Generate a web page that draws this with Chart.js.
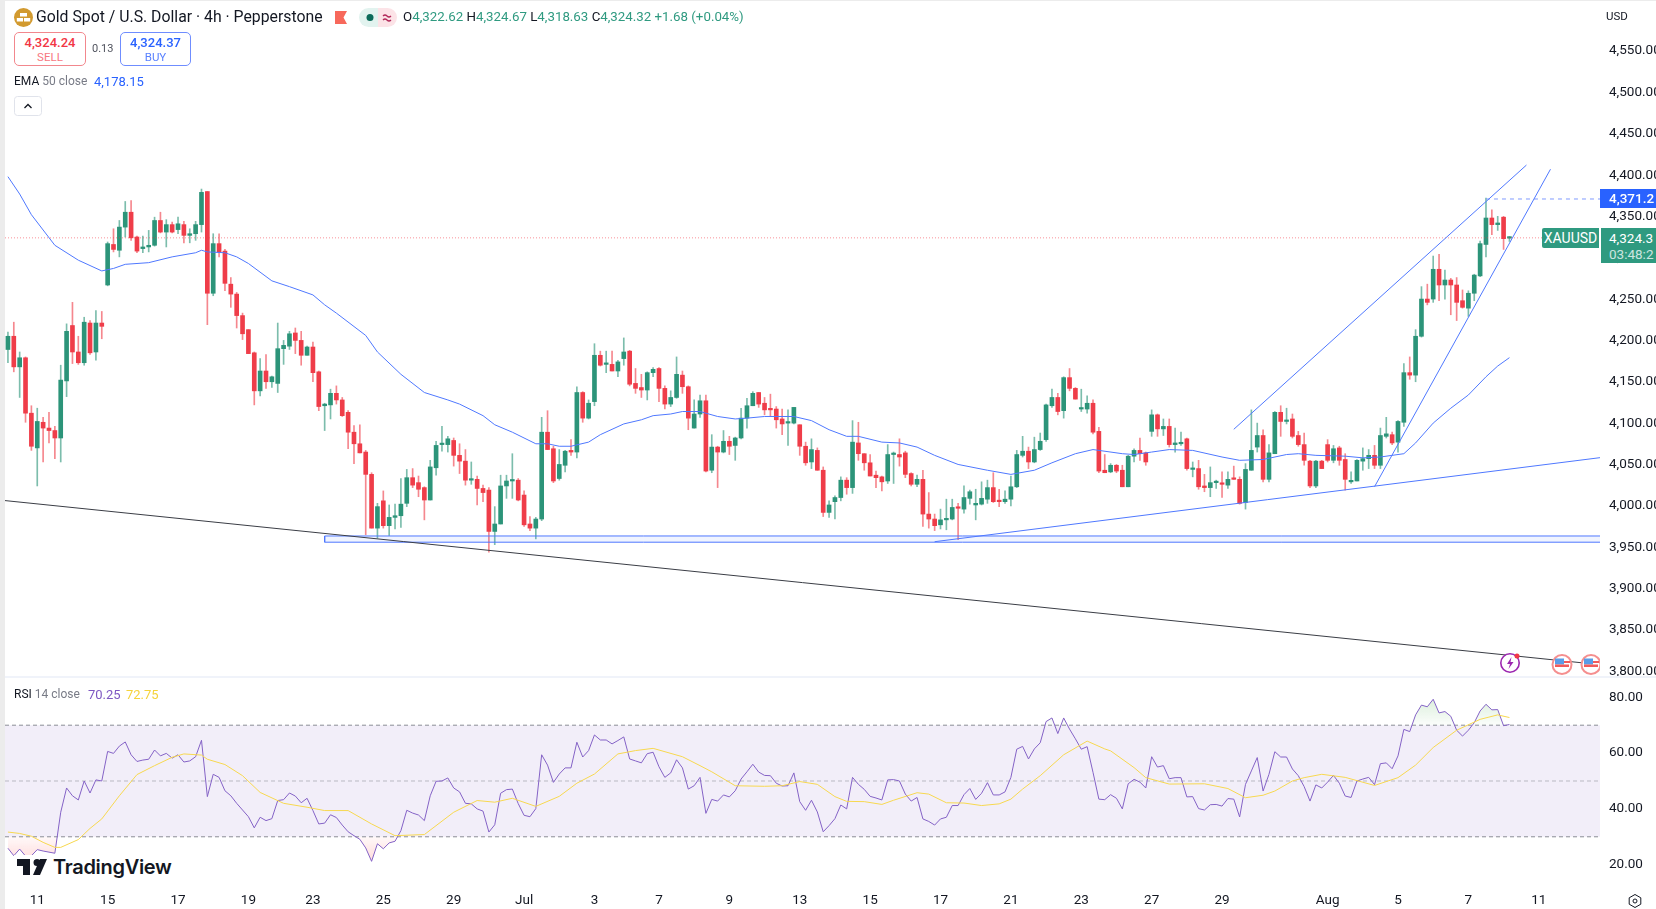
<!DOCTYPE html>
<html>
<head>
<meta charset="utf-8">
<title>Gold Spot / U.S. Dollar</title>
<script src="https://cdn.jsdelivr.net/npm/chart.js@4/dist/chart.umd.min.js"></script>
<style>
    html, body { margin: 0; padding: 0; width: 1656px; height: 909px; overflow: hidden; background: #fff; }
    body { font-family: Roboto, sans-serif; color: #131722; position: relative; }
    canvas { position: absolute; left: 5px; }
    .abs { position: absolute; white-space: nowrap; line-height: 1; }
    .green { color: #2f9a80; }
    .gray { color: #787b86; }
    .box { position: absolute; top: 32px; height: 32px; border-radius: 5px; background: #fff; text-align: center; font-size: 13px; line-height: 1; }
    .box span { display: block; font-size: 11.5px; margin-top: 3px; }
    .box b { display: block; font-weight: 500; margin-top: 3px; }
    .tag { position: absolute; color: #fff; background: #2f9a80; overflow: hidden; white-space: nowrap; }
</style>
</head>
<body>
<div style="position:absolute;left:0;top:0;width:5px;height:909px;background:#ececec"></div>
<div style="position:absolute;left:0;top:0;width:1656px;height:1px;background:#ececec"></div>
<canvas id="priceChart" width="1651" height="675" style="top:1px;width:1651px;height:675px"></canvas>
<canvas id="rsiChart" width="1651" height="231" style="top:678px;width:1651px;height:231px"></canvas>
<div style="position:absolute;left:5px;top:676px;width:1651px;height:2px;background:#f0f3fa"></div>

<!-- legend -->
<svg class="abs" style="left:14px;top:8px" width="19" height="19" viewBox="0 0 19 19">
    <circle cx="9.5" cy="9.5" r="9.5" fill="#d29a2f"/>
    <rect x="6" y="5" width="7" height="3.5" fill="#fff"/>
    <rect x="2.8" y="10" width="6.2" height="3.5" fill="#fff"/>
    <rect x="10" y="10" width="6.2" height="3.5" fill="#fff"/>
</svg>
<div class="abs" style="left:36px;top:9px;font-size:15.8px">Gold Spot / U.S. Dollar · 4h · Pepperstone</div>
<svg class="abs" style="left:335px;top:11px" width="12" height="13"><path d="M0 0H12L8.5 6.5L12 13H0Z" fill="#f7685b"/></svg>
<svg class="abs" style="left:359px;top:8px" width="38" height="19">
    <path d="M9.5 0H19V19H9.5A9.5 9.5 0 0 1 9.5 0Z" fill="#e2f3ef"/>
    <path d="M19 0H28.500A9.500 9.500 0 0 1 28.500 19H19Z" fill="#fce3e7"/>
    <circle cx="11" cy="9.500" r="3.500" fill="#0c6b5a"/>
    <path d="M24 8Q26 6 28 8T32 8M24 12Q26 10 28 12T32 12" fill="none" stroke="#b2285a" stroke-width="1.300"/>
</svg>
<div class="abs green" style="left:403px;top:10px;font-size:13.3px"><span style="color:#131722">O</span>4,322.62 <span style="color:#131722">H</span>4,324.67 <span style="color:#131722">L</span>4,318.63 <span style="color:#131722">C</span>4,324.32 +1.68 (+0.04%)</div>
<div class="abs" style="left:1606px;top:11px;font-size:11.5px">USD</div>

<div class="box" style="left:14px;width:70px;border:1px solid #f2878d;color:#f23645"><b>4,324.24</b><span style="color:#f7777f">SELL</span></div>
<div class="abs" style="left:92px;top:43px;font-size:11px;color:#50535e">0.13</div>
<div class="box" style="left:120px;width:69px;border:1px solid #6f8dff;color:#2962ff"><b>4,324.37</b><span style="color:#5a82ff">BUY</span></div>

<div class="abs" style="left:14px;top:75px;font-size:12px"><span>EMA</span> <span class="gray">50 close</span></div>
<div class="abs" style="left:94px;top:75px;font-size:13px;color:#2962ff">4,178.15</div>
<svg class="abs" style="left:14px;top:96px" width="28" height="20">
    <rect x="0.500" y="0.500" width="27" height="19" rx="3" fill="#fff" stroke="#e0e3eb"/>
    <path d="M10.500 12L14 8.500L17.500 12" fill="none" stroke="#131722" stroke-width="1.300"/>
</svg>

<div class="abs" style="left:14px;top:688px;font-size:12px"><span>RSI</span> <span class="gray">14 close</span></div>
<div class="abs" style="left:88px;top:688px;font-size:13px;color:#7e57c2">70.25</div>
<div class="abs" style="left:126px;top:688px;font-size:13px;color:#f5d33c">72.75</div>

<!-- price labels -->
<div class="tag" style="left:1600px;top:189px;width:56px;height:19px;background:#2962ff;font-size:13.500px;line-height:19px;text-indent:9px;font-weight:500">4,371.2</div>
<div class="tag" style="left:1542px;top:228px;width:57px;height:20px;font-size:14px;line-height:20px;text-align:center;border-radius:2px 0 0 2px">XAUUSD</div>
<div class="tag" style="left:1601px;top:228px;width:55px;height:35px;font-size:13.500px;text-indent:8px;line-height:16px"><div style="margin-top:2px">4,324.3</div><div style="opacity:.75">03:48:2</div></div>

<!-- event marks -->
<svg class="abs" style="left:1500px;top:650px" width="100" height="26" viewBox="0 0 100 26">
    <circle cx="10" cy="13" r="9.200" fill="#fff" stroke="#9c27b0" stroke-width="1.600"/>
    <path d="M11.500 7L7 14H10L8.500 19L13.500 12H10.500Z" fill="#9c27b0"/>
    <circle cx="17" cy="6" r="2.500" fill="#f23645"/>
    <g>
        <circle cx="62" cy="14.500" r="9.500" fill="#fff" stroke="#f58f8f" stroke-width="2"/>
        <rect x="55" y="8.500" width="9" height="6" fill="#5a9ce8"/>
        <rect x="55" y="14.500" width="14" height="2.500" fill="#f25a5a"/>
        <rect x="64" y="11" width="6" height="2" fill="#f25a5a"/>
    </g>
    <g>
        <circle cx="91" cy="14.500" r="9.500" fill="#fff" stroke="#f58f8f" stroke-width="2"/>
        <rect x="84" y="8.500" width="9" height="6" fill="#5a9ce8"/>
        <rect x="84" y="14.500" width="14" height="2.500" fill="#f25a5a"/>
        <rect x="93" y="11" width="6" height="2" fill="#f25a5a"/>
    </g>
</svg>

<!-- watermark -->
<div style="position:absolute;left:14px;top:855px;width:160px;height:24px;background:#fff"></div>
<svg class="abs" style="left:17px;top:859px" width="30" height="16" viewBox="0 0 30 16">
    <path d="M0 0H13V16H6V7H0Z M20 0A3.500 3.500 0 1 1 20 7A3.500 3.500 0 0 1 20 0Z M16 16L23 0H30L23 16Z" fill="#131722"/>
</svg>
<div class="abs" style="left:53px;top:857px;font-size:20px;font-family:Inter,sans-serif;font-weight:600;letter-spacing:-0.300px">TradingView</div>

<svg class="abs" style="left:1627px;top:893px" width="16" height="16" viewBox="0 0 16 16">
    <path d="M8 1.500L13.800 4.800V11.200L8 14.500L2.200 11.200V4.800Z" fill="none" stroke="#131722"/>
    <circle cx="8" cy="8" r="2" fill="none" stroke="#131722"/>
</svg>

<script>
// Candles
const opens = [
    4188,4204,4167,4178,4111,4069,4100,4093,4090,4081,
    4150,4217,4185,4172,4220,4185,4220,4266,4315,4308,
    4336,4354,4324,4310,4312,4314,4344,4330,4339,4333,
    4339,4326,4328,4339,4379,4256,4316,4307,4267,4255,
    4229,4212,4184,4138,4162,4149,4147,4189,4192,4208,
    4199,4181,4191,4161,4120,4121,4135,4127,4112,4088,
    4074,4064,4037,3972,4005,3975,3985,3987,4002,4033,
    4027,4021,4006,4045,4073,4073,4078,4060,4053,4030,
    4031,4020,4018,3968,3977,4023,4029,4030,4012,3977,
    3972,3983,4088,4068,4032,4048,4066,4064,4136,4105,
    4125,4181,4170,4170,4162,4177,4186,4147,4142,4139,
    4160,4165,4141,4122,4130,4157,4143,4093,4110,4126,
    4042,4070,4064,4077,4072,4081,4105,4120,4136,4123,
    4116,4116,4104,4099,4099,4097,4071,4052,4066,4042,
    3991,4004,4009,4030,4021,4075,4062,4051,4036,4034,
    4029,4061,4061,4063,4038,4025,4031,3989,3983,3976,
    3982,3983,3997,3995,4008,4000,4001,4007,4021,4005,
    4004,4007,4022,4060,4065,4052,4067,4079,4120,4130,
    4114,4154,4141,4116,4116,4123,4089,4042,4040,4048,
    4042,4022,4059,4066,4063,4089,4109,4092,4095,4073,
    4074,4080,4043,4044,4023,4021,4027,4026,4024,4032,
    4031,4003,4042,4070,4084,4031,4062,4112,4101,4104,
    4084,4073,4053,4023,4053,4073,4054,4069,4055,4028,
    4029,4053,4056,4060,4048,4083,4085,4076,4100,4160,
    4157,4204,4249,4249,4285,4266,4272,4266,4247,4238,
    4256,4277,4315,4347,4339,4348,4322.62
];
const closes = [
    4204,4167,4178,4111,4071,4101,4093,4090,4081,4151,
    4210,4185,4172,4221,4184,4220,4216,4316,4309,4336,
    4354,4323,4307,4312,4314,4344,4330,4339,4330,4340,
    4326,4328,4339,4378,4256,4316,4306,4268,4255,4229,
    4207,4183,4138,4162,4149,4155,4189,4193,4207,4199,
    4181,4191,4160,4119,4122,4135,4127,4108,4088,4074,
    4063,4037,3972,3998,3975,3985,3987,4001,4033,4024,
    4019,4006,4046,4072,4074,4080,4060,4053,4030,4031,
    4020,4015,3968,3977,4023,4029,4030,4006,3976,3972,
    3983,4088,4067,4029,4049,4065,4064,4136,4105,4123,
    4181,4169,4171,4162,4173,4185,4146,4141,4139,4160,
    4164,4141,4122,4130,4158,4143,4105,4110,4126,4041,
    4070,4064,4077,4071,4081,4105,4120,4135,4122,4115,
    4115,4103,4098,4100,4118,4071,4051,4067,4042,3991,
    4000,4009,4030,4021,4076,4062,4051,4035,4033,4028,
    4061,4062,4058,4037,4025,4031,3989,3983,3975,3982,
    3983,3997,3996,4009,4016,4002,4008,4021,4004,4004,
    4007,4022,4061,4065,4052,4067,4077,4121,4130,4113,
    4154,4141,4128,4117,4123,4088,4041,4039,4048,4041,
    4022,4059,4066,4062,4052,4109,4092,4095,4073,4075,
    4075,4044,4044,4022,4021,4027,4028,4025,4031,4031,
    4002,4043,4066,4084,4031,4063,4112,4101,4102,4083,
    4073,4054,4023,4053,4044,4054,4068,4054,4031,4029,
    4054,4056,4060,4048,4084,4086,4075,4101,4160,4157,
    4204,4249,4245,4285,4266,4272,4266,4245,4239,4256,
    4278,4316,4347,4339,4341,4322,4324.32
];
const highs = [
    4209,4221,4185,4179,4120,4117,4106,4112,4095,4169,
    4219,4245,4204,4227,4223,4235,4234,4318,4334,4344,
    4367,4368,4325,4325,4332,4348,4354,4345,4342,4348,
    4343,4334,4343,4382,4379,4328,4328,4309,4275,4257,
    4232,4212,4185,4177,4182,4156,4220,4199,4210,4214,
    4210,4192,4197,4162,4123,4140,4144,4130,4114,4096,
    4097,4066,4039,4002,4017,4000,4001,4032,4043,4044,
    4035,4022,4054,4077,4095,4083,4081,4074,4067,4052,
    4035,4024,4021,3998,4036,4036,4062,4032,4017,3986,
    3985,4106,4114,4071,4067,4066,4079,4143,4137,4127,
    4195,4186,4186,4186,4175,4202,4187,4165,4158,4161,
    4166,4166,4144,4138,4179,4162,4144,4127,4133,4133,
    4085,4071,4090,4083,4082,4117,4129,4137,4136,4130,
    4134,4119,4116,4115,4118,4097,4076,4080,4069,4046,
    4005,4011,4034,4033,4102,4100,4062,4061,4041,4035,
    4073,4064,4080,4065,4039,4036,4042,4015,3989,3995,
    4007,4007,4002,4023,4018,4019,4028,4030,4039,4019,
    4017,4035,4066,4083,4070,4082,4087,4122,4140,4135,
    4155,4165,4142,4140,4132,4127,4094,4061,4050,4049,
    4048,4060,4068,4081,4064,4115,4110,4104,4104,4093,
    4088,4081,4052,4054,4037,4046,4030,4040,4040,4047,
    4034,4050,4115,4099,4091,4073,4113,4120,4117,4110,
    4089,4087,4054,4054,4054,4079,4072,4071,4062,4040,
    4055,4069,4067,4072,4093,4106,4088,4102,4171,4179,
    4212,4264,4267,4301,4303,4284,4274,4275,4260,4259,
    4279,4319,4371,4357,4349,4349,4324.67
];
const lows = [
    4172,4161,4130,4100,4066,4023,4052,4075,4056,4052,
    4131,4171,4170,4169,4182,4175,4201,4265,4306,4300,
    4324,4320,4305,4305,4306,4313,4329,4312,4329,4328,
    4317,4317,4320,4330,4218,4253,4300,4259,4239,4214,
    4200,4183,4121,4132,4141,4142,4136,4170,4188,4183,
    4169,4181,4149,4114,4090,4104,4122,4107,4068,4050,
    4063,3964,3972,3960,3972,3963,3971,3973,3998,4021,
    4010,3982,4006,4036,4065,4064,4047,4038,4024,4025,
    4000,4004,3943,3952,3977,4008,4008,4005,3974,3969,
    3959,3981,4067,4027,4030,4040,4060,4057,4100,4104,
    4120,4168,4160,4162,4155,4169,4144,4135,4130,4127,
    4155,4125,4116,4119,4129,4135,4091,4093,4106,4040,
    4039,4021,4063,4061,4054,4080,4093,4120,4118,4109,
    4108,4093,4085,4072,4098,4060,4048,4044,4042,3986,
    3985,3983,4005,4013,4014,4054,4042,4035,4021,4017,
    4026,4026,4047,4033,4023,4022,3974,3972,3969,3971,
    3970,3982,3958,3990,4001,3982,4000,4002,4003,3998,
    4002,3999,4021,4058,4044,4051,4066,4077,4118,4109,
    4105,4138,4128,4113,4111,4086,4039,4039,4039,4039,
    4022,4022,4052,4054,4048,4083,4083,4084,4070,4064,
    4072,4042,4034,4019,4016,4010,4020,4009,4020,4031,
    4001,3995,4042,4064,4028,4028,4062,4083,4098,4081,
    4071,4048,4021,4021,4044,4052,4051,4048,4018,4026,
    4029,4042,4044,4044,4044,4081,4073,4064,4095,4152,
    4149,4203,4242,4245,4247,4249,4230,4223,4238,4228,
    4247,4276,4300,4327,4332,4309,4318.63
];

// EMA 50, read at the bends of the line
const emaBars = [0,2,4,8,12,16,18,20,24,28,32,33,34,37,39,41,45,48,52,54,56,61,63,67,71,75,77,81,83,86,90,92,94,96,99,101,105,108,110,113,115,118,121,124,126,129,134,137,140,143,145,149,152,155,158,162,167,171,175,178,182,185,190,192,195,198,202,207,210,214,218,220,223,228,231,234,238,240,243,246,249,252,254,256];
const emaValues = [4397,4376,4351,4314,4296,4283,4286,4291,4293,4300,4305,4308,4306,4305,4300,4292,4271,4264,4254,4242,4232,4205,4185,4158,4136,4127,4122,4108,4097,4088,4074,4074,4071,4071,4076,4085,4098,4103,4108,4110,4113,4113,4107,4104,4105,4107,4107,4102,4091,4083,4083,4076,4075,4070,4060,4049,4042,4037,4042,4051,4062,4067,4062,4061,4064,4067,4066,4058,4054,4055,4061,4062,4060,4059,4057,4058,4062,4075,4099,4117,4133,4155,4168,4178.15];

// RSI 14, one value per bar
const rsiValues = [
    25.9,23.2,25.6,23.1,23.2,25.4,24.9,24.5,24.1,38.8,
    47.5,44.7,43.2,50,45.7,50.4,50,60.6,59.9,62.5,
    64,59.4,57,57.5,57.8,61.1,59,59.9,58.2,59.4,
    56.8,57.2,58.7,64.6,44.4,52.4,51.3,46.5,44.7,42,
    39.6,37.2,33.2,37,35.8,36.5,43,43.3,45.7,44.6,
    42.2,43.8,39.4,34.6,34.9,37.9,36.9,34.2,31.8,30.4,
    29.1,26,21.2,27.5,25.7,27.8,28.4,32.2,39.5,38.5,
    37.8,35.8,44.7,49.9,50,51.1,47.5,46.1,42,41.8,
    40,39.2,31.7,34.3,45.6,46.9,47.1,41.9,37.7,37.2,
    40.1,59.4,55.7,49.5,52.5,54.7,54.7,63.9,58.6,60.9,
    66.5,64.7,64.7,63.3,64.5,65.8,57.9,57.2,56.5,59.8,
    60.3,55.1,51.3,52.9,57.6,54.7,47.1,48.3,51.3,38.4,
    43.4,42.8,45,44.3,46.5,50.7,53.3,56,53.2,52,
    51.9,49.2,48.2,48.3,52.9,42.6,39.5,43.1,38.9,31.8,
    34,36.5,41.4,40,51.3,48.8,47,44.5,43.9,43.2,
    50.4,50.5,50,45.3,42.8,44.1,36.4,35.5,34.2,36.4,
    37,41.2,41.2,45.1,47.3,43.4,45.6,49.4,45,45,
    46.1,51.3,61.4,62.4,57.9,61.5,63.7,71.3,72.6,67,
    72.6,68.6,65.1,61.4,62.3,53.1,43.5,43.3,45.1,43.8,
    40,49,50.6,49.6,47.5,58.7,55,55.5,50.8,51.2,
    51.2,44.3,44.4,40.1,39.6,41.5,41.6,41,43.7,43.5,
    37.1,48.8,53.6,58.4,46.4,52.4,60.5,58.6,58.6,54.3,
    51.9,48,42.8,48.6,47.5,49.6,52,49.2,44.6,44.1,
    50,50.7,51.3,48.7,56.2,56.5,54.4,59,68.5,67.7,
    73.7,77.2,76.6,79.3,74.4,74.9,73.2,68.2,66.1,68.2,
    70.9,75.1,77.5,75.5,75.6,69.8,70.25
];
// RSI moving average, read at the bends
const rsiMaBars = [0,2,4,6,8,9,12,14,16,19,22,25,28,30,33,34,37,40,43,47,51,54,58,62,66,71,76,80,83,86,90,94,97,100,104,107,110,115,118,120,124,129,132,135,138,141,143,146,149,151,155,157,160,163,166,169,171,173,176,180,184,187,188,192,194,198,204,208,211,214,216,219,221,224,228,233,237,240,243,247,251,254,256];
const rsiMaValues = [31.7,31.2,30.2,28,26.2,26.2,29,33,36.4,44.7,52.3,55.5,58.5,59.7,59.3,57.8,55.9,51.9,45.9,42,40.6,39.4,39.4,34.6,30.4,30.8,38.8,43,42.4,43.8,40.9,44.5,49.2,52.5,59.7,60.9,61.7,58.7,55.5,53.3,48.3,48.1,48.3,49.8,48.8,44.4,42.7,42.6,41.6,43.1,45.8,45.3,42.2,42.1,41.2,41.8,43.5,47.1,51.9,59.4,64.3,61.5,60.8,54.8,51.2,48.9,49,47.3,44,44.9,46.4,50,51.2,52.4,51.3,48.4,51.2,55.7,62,68.2,72.1,73.7,72.75];

// Drawings on the price pane: [first bar, last bar] and [first price, last price]
const xEnd = 271.44;
const wedgeBars = [-0.5, xEnd];       const wedgePrices = [4005.3, 3806.9];
const zoneBars = [54, xEnd];          const zoneTop = 3962.5;   const zoneBottom = 3955;
const supportBars = [158, xEnd];      const supportPrices = [3955.6, 4057.2];
const channelBars = [209, 258.9];     const channelPrices = [4091.5, 4411];
const risingBars = [233, 263];        const risingPrices = [4022.1, 4406];
const highBars = [252, xEnd];         const highPrice = 4370;
const lastPrice = 4323;

// Axis ticks
const priceTicks = [4550,4500,4450,4400,4350,4300,4250,4200,4150,4100,4050,4000,3950,3900,3850,3800];
const rsiTicks = [80,60,40,20];
const rsiLevels = [70,50,30];
const dateBars = [5,17,29,41,52,64,76,88,100,111,123,135,147,159,171,183,195,207,225,237,249,261];
const dateLabels = ['11','15','17','19','23','25','29','Jul','3','7','9','13','15','17','21','23','27','29','Aug','5','7','11'];

const COLORS = {
    up: '#2c9479',
    down: '#ef3d49',
    upWick: 'rgba(44,148,121,0.62)',
    downWick: 'rgba(239,61,73,0.62)',
    blue: '#4f78ff',
    text: '#131722'
};
const AXIS_FONT = { family: 'Roboto, sans-serif', size: 13.5 };

Chart.defaults.animation = false;
Chart.defaults.responsive = false;
Chart.defaults.plugins.legend.display = false;
Chart.defaults.plugins.tooltip.enabled = false;

const candleColor = (i, up, down) => closes[i] >= opens[i] ? up : down;

// Straight segment between two readings
function segment(bars, values, color, extra) {
    return Object.assign({
        type: 'line',
        data: bars.map((b, i) => ({ x: b, y: values[i] })),
        borderColor: color,
        borderWidth: 1,
        pointRadius: 0,
        fill: false,
        order: 2
    }, extra || {});
}

// Y axis on the right with a fixed width, so both panes line up
function rightAxis(min, max, values, format, labelOffset) {
    return {
        position: 'right',
        min: min,
        max: max,
        grid: { display: false, drawTicks: false },
        border: { display: false },
        ticks: { color: COLORS.text, font: AXIS_FONT, padding: 9, autoSkip: false, labelOffset: labelOffset, callback: format },
        afterBuildTicks: scale => { scale.ticks = values.map(v => ({ value: v })); },
        afterFit: scale => {
            scale.width = 56;
            scale.paddingTop = 0;
            scale.paddingBottom = 0;
        }
    };
}

function createPriceChart() {
    new Chart(document.getElementById('priceChart'), {
        data: {
            datasets: [
                segment(wedgeBars, wedgePrices, '#3a3d45'),
                segment(supportBars, supportPrices, COLORS.blue),
                segment(channelBars, channelPrices, COLORS.blue),
                segment(risingBars, risingPrices, COLORS.blue),
                segment(zoneBars, [zoneTop, zoneTop], COLORS.blue, { fill: '+1', backgroundColor: 'rgba(41,98,255,0.07)' }),
                segment(zoneBars, [zoneBottom, zoneBottom], COLORS.blue),
                segment([zoneBars[0], zoneBars[0]], [zoneTop, zoneBottom], COLORS.blue),
                segment(highBars, [highPrice, highPrice], '#7f9bff', { borderDash: [4, 4] }),
                segment([-0.5, xEnd], [lastPrice, lastPrice], 'rgba(242,54,69,0.55)', { borderDash: [1, 2] }),
                segment(emaBars, emaValues, COLORS.blue, { order: 3 }),
                {
                    type: 'bar',
                    data: opens.map((o, i) => ({ x: i, y: [o, closes[i]] })),
                    backgroundColor: opens.map((o, i) => candleColor(i, COLORS.up, COLORS.down)),
                    barThickness: 4,
                    minBarLength: 1.5,
                    grouped: false,
                    order: 4
                },
                {
                    type: 'bar',
                    data: lows.map((l, i) => ({ x: i, y: [l, highs[i]] })),
                    backgroundColor: lows.map((l, i) => candleColor(i, COLORS.upWick, COLORS.downWick)),
                    barThickness: 1,
                    grouped: false,
                    order: 5
                }
            ]
        },
        options: {
            layout: { padding: 0 },
            scales: {
                x: { type: 'linear', offset: false, min: -0.5, max: xEnd, display: false },
                y: rightAxis(3793.2, 4609.4, priceTicks, v => v.toLocaleString('en-US', { minimumFractionDigits: 2 }), 1)
            }
        }
    });
}

function createRsiChart() {
    const ctx = document.getElementById('rsiChart').getContext('2d');
    const rsiBars = rsiValues.map((v, i) => i);

    // Zones above 70 and below 30 fade towards the level, in canvas pixels
    const overbought = ctx.createLinearGradient(0, 8, 0, 46);
    overbought.addColorStop(0, 'rgba(76,175,80,0.28)');
    overbought.addColorStop(1, 'rgba(76,175,80,0.03)');
    const oversold = ctx.createLinearGradient(0, 158, 0, 200);
    oversold.addColorStop(0, 'rgba(255,82,82,0.03)');
    oversold.addColorStop(1, 'rgba(255,82,82,0.32)');

    new Chart(ctx, {
        data: {
            datasets: [
                segment(rsiBars, rsiValues, '#7e57c2', { order: 1, borderColor: '#8462c6' }),
                segment(rsiMaBars, rsiMaValues, '#f7d84f', { order: 0 }),
                segment(rsiBars, rsiValues, 'transparent', {
                    order: 3, borderWidth: 0,
                    fill: { target: { value: rsiLevels[0] }, above: overbought, below: 'transparent' }
                }),
                segment(rsiBars, rsiValues, 'transparent', {
                    order: 3, borderWidth: 0,
                    fill: { target: { value: rsiLevels[2] }, above: 'transparent', below: oversold }
                }),
                segment([-0.5, xEnd], [rsiLevels[0], rsiLevels[0]], '#8a8d96', { borderDash: [4, 3], fill: { value: rsiLevels[2] }, backgroundColor: 'rgba(126,87,194,0.1)', order: 4 }),
                segment([-0.5, xEnd], [rsiLevels[1], rsiLevels[1]], '#b9bac2', { borderDash: [4, 3], order: 2 }),
                segment([-0.5, xEnd], [rsiLevels[2], rsiLevels[2]], '#8a8d96', { borderDash: [4, 3], order: 2 })
            ]
        },
        options: {
            layout: { padding: 0 },
            scales: {
                x: {
                    type: 'linear',
                    offset: false,
                    min: -0.5,
                    max: xEnd,
                    grid: { display: false, drawTicks: false },
                    border: { display: false },
                    ticks: {
                        color: COLORS.text,
                        font: AXIS_FONT,
                        padding: 7,
                        maxRotation: 0,
                        autoSkip: false,
                        callback: v => dateLabels[dateBars.indexOf(v)]
                    },
                    afterBuildTicks: scale => { scale.ticks = dateBars.map(b => ({ value: b })); },
                    afterFit: scale => {
                        scale.height = 23;
                        scale.paddingLeft = 0;
                        scale.paddingRight = 0;
                    }
                },
                y: rightAxis(12.36, 86.92, rsiTicks, v => v.toFixed(2), 0)
            }
        }
    });
}

createPriceChart();
createRsiChart();
</script>
</body>
</html>
